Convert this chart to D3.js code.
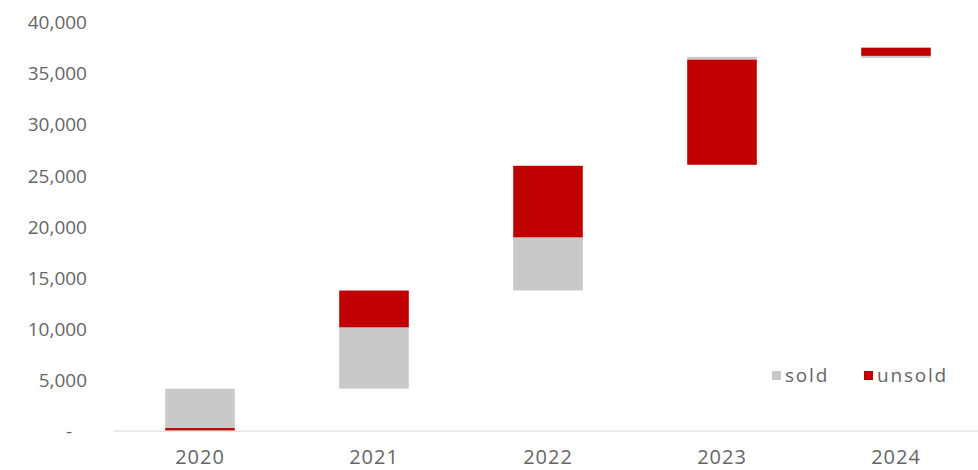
<!DOCTYPE html>
<html>
<head>
<meta charset="utf-8">
<script src="https://cdn.jsdelivr.net/npm/d3@7"></script>
<style>
  body{margin:0;background:#fff;}
  text{font-family:"Open Sans",sans-serif;fill:#666;}
</style>
</head>
<body>
<div id="canvas"></div>
<script>
// data
var years = ['2020','2021','2022','2023','2024'];
var base = [0, 4100, 13700, 26000, 36450];      // where each floating bar starts
var sold = [3850, 6000, 5200, 250, 200];
var unsold = [250, 3600, 7000, 10300, 800];
var soldFirst = [false, true, true, false, true];  // stacking order inside a bar
var yTicks = [0, 5000, 10000, 15000, 20000, 25000, 30000, 35000, 40000];

var colors = {sold:'#c9c9c9', unsold:'#c00000'};

var W = 978, H = 470;
var svg = d3.select('#canvas').append('svg')
    .attr('width', W)
    .attr('height', H);

var scaleX = d3.scaleBand()
    .domain(years)
    .range([113, 983])
    .paddingInner(0.6)
    .paddingOuter(0.3);

var scaleY = d3.scaleLinear()
    .domain([0, 40000])
    .range([430.6, 21.6]);

// build segments
var segs = [];
years.forEach(function(y, i){
    var order = soldFirst[i] ? ['sold','unsold'] : ['unsold','sold'];
    var vals = {sold: sold[i], unsold: unsold[i]};
    var start = base[i];
    order.forEach(function(k){
        segs.push({year: y, key: k, y0: start, y1: start + vals[k]});
        start += vals[k];
    });
});

svg.selectAll('.seg')
    .data(segs)
    .enter()
    .append('rect')
    .attr('class','seg')
    .attr('x', function(d){return scaleX(d.year)})
    .attr('width', scaleX.bandwidth())
    .attr('y', function(d){return scaleY(d.y1)})
    .attr('height', function(d){return scaleY(d.y0) - scaleY(d.y1)})
    .attr('fill', function(d){return colors[d.key]});

// y axis (labels only)
var axisY = d3.axisLeft(scaleY)
    .tickValues(yTicks)
    .tickSize(0)
    .tickPadding(0)
    .tickFormat(function(d){return d === 0 ? '-' : d3.format(',')(d)});

var gy = svg.append('g')
    .attr('class','axis axis-y')
    .attr('transform','translate(87,1)')
    .call(axisY);
gy.select('.domain').remove();
gy.selectAll('text')
    .style('font-size','19px')
    .style('font-family','"Open Sans",sans-serif')
    .attr('fill','#666')
    .attr('dx', function(d){return d === 0 ? '-15px' : 0});

// x axis
var axisX = d3.axisBottom(scaleX)
    .tickSize(0)
    .tickPadding(19)
    .tickSizeOuter(0);

var gx = svg.append('g')
    .attr('class','axis axis-x')
    .attr('transform','translate(0,' + scaleY(0) + ')')
    .call(axisX);
gx.select('.domain')
    .attr('stroke','#d9d9d9')
    .attr('d','M113,0.5H978');
gx.selectAll('text')
    .style('font-size','20px')
    .style('letter-spacing','1px')
    .style('font-family','"Open Sans",sans-serif')
    .attr('fill','#666');

// legend
var legend = [
    {key:'sold', label:'sold', x:772},
    {key:'unsold', label:'unsold', x:864}
];
var lg = svg.selectAll('.legend')
    .data(legend)
    .enter()
    .append('g')
    .attr('class','legend')
    .attr('transform', function(d){return 'translate(' + d.x + ',375)'});
lg.append('rect')
    .attr('x',0)
    .attr('y',-4)
    .attr('width',9)
    .attr('height',9)
    .attr('fill', function(d){return colors[d.key]});
lg.append('text')
    .attr('x',13)
    .attr('y',0)
    .attr('dy','0.35em')
    .style('font-size','19px')
    .style('letter-spacing','1.8px')
    .text(function(d){return d.label});
</script>
</body>
</html>
